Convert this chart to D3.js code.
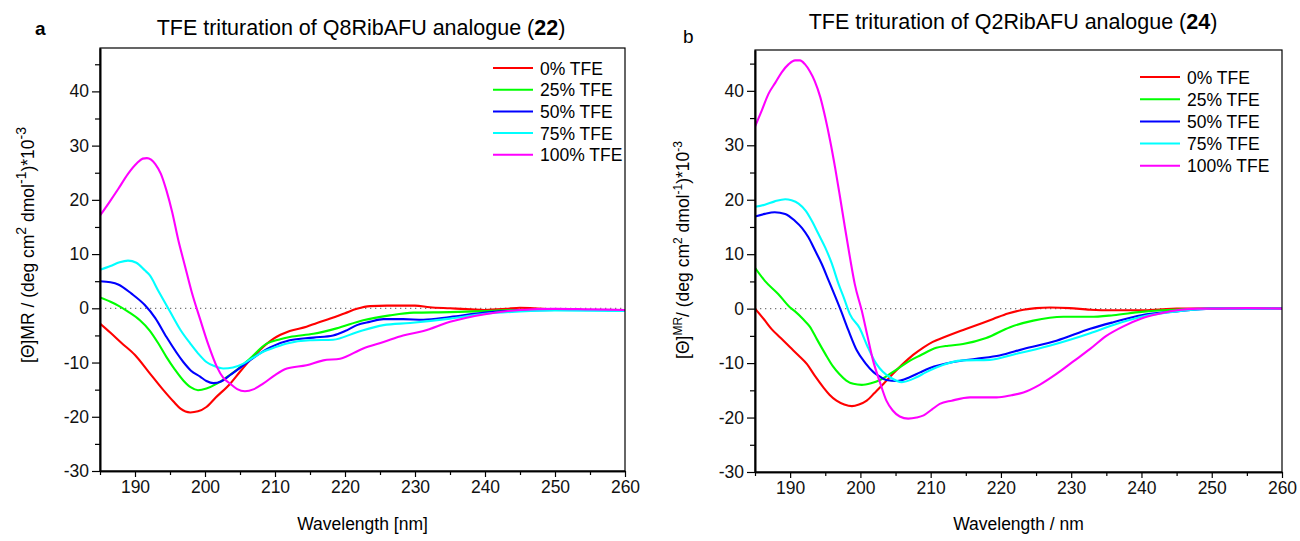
<!DOCTYPE html>
<html>
<head>
<meta charset="utf-8">
<script src="https://cdn.jsdelivr.net/npm/d3@7"></script>
<style>
  body { margin: 0; background: #fff; }
  svg { font-family: "Liberation Sans", Arial, sans-serif; }
</style>
</head>
<body>
<svg id="chart" width="1300" height="541"></svg>
<script>
// CD spectra, [wavelength nm, [Θ]MR * 10^-3]
const seriesNames = ["0% TFE", "25% TFE", "50% TFE", "75% TFE", "100% TFE"];
const seriesColors = ["#ff0000", "#00ff00", "#0000ff", "#00ffff", "#ff00ff"];
const xTicks = [190, 200, 210, 220, 230, 240, 250, 260];
const yTicks = [-30, -20, -10, 0, 10, 20, 30, 40];

// panel a: Q8RibAFU analogue (22)
const red0a = [[185,-2.8],[186.5,-4.5],[188,-6.3],[190,-8.6],[192,-11.8],[194,-15],[195.5,-17.2],[196.5,-18.5],[197.9,-19.2],[199,-19],[200.2,-18.2],[201.5,-16.5],[203.6,-13.9],[205,-11.7],[206.4,-9.6],[208,-7.5],[209.8,-5.6],[212.1,-4.2],[214.5,-3.4],[216,-2.7],[217.9,-1.9],[220,-0.9],[221.7,-0.1],[223.6,0.4],[226,0.5],[228.3,0.5],[230,0.5],[232.1,0.2],[235,0],[238,-0.2],[240,-0.3],[243,-0.1],[245,0.1],[247,0],[250,-0.2],[255,-0.3],[260,-0.3]];
const green25a = [[185,2.0],[186.5,1.2],[187.6,0.5],[189,-0.6],[190.7,-2.2],[192.1,-4.1],[193.3,-6.4],[194.5,-9],[195.7,-11.3],[196.9,-13.3],[198,-14.6],[199,-15.1],[200.2,-14.8],[201.7,-13.9],[203,-12.8],[204.5,-11.4],[206.4,-9.3],[208.8,-6.5],[210.5,-5.8],[212.1,-5.3],[215.5,-4.7],[218.8,-3.7],[222.6,-2.2],[226.4,-1.3],[229.8,-0.8],[235,-0.7],[240,-0.5],[245,-0.3],[250,-0.3],[260,-0.3]];
const blue50a = [[185,5.0],[186.5,4.8],[187.6,4.4],[189.5,2.7],[191.4,0.6],[192.9,-1.8],[194.5,-5.3],[196.9,-9.9],[198,-11.5],[199.3,-12.6],[200.2,-13.4],[201.2,-13.8],[202.3,-13.5],[203.6,-12.3],[205,-11],[206.4,-9.6],[209.3,-7.2],[212.1,-5.9],[215.5,-5.4],[218.3,-5.0],[220,-4.2],[221.7,-3.1],[223.5,-2.5],[225.5,-2.0],[228.3,-2.0],[231.2,-2.1],[235,-1.6],[240,-0.8],[245,-0.4],[250,-0.3],[260,-0.3]];
const cyan75a = [[185,7.1],[186.5,7.8],[187.8,8.5],[189,8.8],[190.2,8.4],[191.4,7.0],[192.1,6.1],[193.3,3.3],[195,-0.6],[196.5,-4.0],[197.9,-6.5],[199,-8.3],[200.2,-9.9],[201.4,-10.7],[202.6,-11.1],[204,-10.9],[205.5,-10.2],[206.9,-9.1],[208.3,-8.0],[210,-7.2],[211.7,-6.5],[215,-5.9],[218.3,-5.8],[221.7,-4.4],[225.5,-3.1],[229.3,-2.7],[235,-1.9],[240,-1.0],[245,-0.6],[250,-0.4],[260,-0.5]];
const magenta100a = [[185,17.1],[186.3,19.5],[187.6,22.0],[189,24.8],[190.3,26.8],[191.1,27.6],[191.7,27.7],[192.3,27.4],[192.9,26.6],[193.7,24.8],[194.5,21.7],[195.3,17.8],[196.2,12.5],[197.1,8.0],[198.1,3.0],[199.3,-2.0],[200.5,-6.8],[201.7,-10.8],[202.6,-12.8],[203.6,-13.9],[204.6,-14.9],[205.7,-15.3],[207,-14.9],[208.3,-13.9],[210,-12.3],[211.7,-11.1],[214.5,-10.5],[216.9,-9.6],[219.3,-9.3],[222.6,-7.4],[225.5,-6.2],[228.3,-5.0],[231.2,-4.2],[235,-2.5],[240,-1.1],[245,-0.3],[250,-0.1],[255,-0.2],[260,-0.3]];

// panel b: Q2RibAFU analogue (24)
const red0b = [[185,0],[186.3,-2],[187.4,-3.8],[188.5,-5.2],[190,-7.1],[191.2,-8.6],[192.4,-10.2],[193.5,-12.3],[194.7,-14.4],[195.6,-15.8],[196.6,-16.9],[197.7,-17.6],[198.8,-17.9],[199.8,-17.6],[200.9,-16.9],[202,-15.5],[203.3,-13.8],[204.6,-12],[206.1,-10.1],[207.5,-8.5],[209,-7.1],[210.3,-6.1],[211.8,-5.3],[215.1,-3.7],[218.9,-1.9],[221,-0.9],[223.2,-0.2],[225,0.1],[227,0.2],[229.8,0.1],[232.7,-0.2],[236,-0.3],[240,-0.3],[243,-0.1],[245,0],[250,0],[255,0],[260,0]];
const green25b = [[185,7.5],[186.4,5.1],[188.3,2.7],[190,0.2],[190.7,-0.5],[191.9,-2.0],[192.8,-3.3],[193.8,-5.6],[195,-8.3],[196.1,-10.6],[197,-12],[198,-13.2],[199,-13.8],[200.2,-14.0],[201.5,-13.7],[202.8,-13.1],[204.2,-12],[205.6,-10.8],[207,-9.6],[208.5,-8.6],[210.8,-7.2],[212.5,-6.8],[214.6,-6.5],[217.9,-5.4],[221.3,-3.4],[224.6,-2.2],[228.9,-1.5],[232.7,-1.5],[236,-1.2],[240,-0.6],[243,-0.3],[246,-0.1],[250,0],[255,0],[260,0]];
const blue50b = [[185,16.9],[186.4,17.4],[187.8,17.7],[189.3,17.4],[190.7,16.1],[191.7,14.8],[192.6,13.1],[193.5,10.8],[194.5,8.2],[195.5,5.1],[196.4,2.3],[197.3,-0.6],[198.3,-4.0],[199.5,-7.7],[200.7,-10],[201.9,-11.7],[202.8,-12.5],[203.7,-13.1],[205.2,-13.3],[207,-12.6],[208.5,-11.7],[209.9,-10.9],[213.2,-9.8],[216.5,-9.2],[219.8,-8.6],[223.2,-7.4],[227.9,-5.9],[232.7,-3.7],[236,-2.5],[240,-1.2],[245,-0.5],[250,0],[255,0],[260,0]];
const cyan75b = [[185,18.7],[186.4,19.1],[187.8,19.7],[189.3,20.1],[190.2,19.9],[191.2,19.3],[192.2,18.0],[193.1,16.1],[194,13.8],[195,11.2],[195.9,8.4],[196.9,4.5],[197.7,1.8],[198.5,-1.0],[199.9,-3.6],[201,-6.9],[202.3,-10.2],[203.2,-11.6],[204.2,-12.6],[205.9,-13.5],[208,-12.6],[209.3,-11.7],[210.8,-10.8],[214.6,-9.5],[218.4,-9.4],[222.2,-8.3],[226.9,-6.8],[232.7,-4.5],[236,-3.0],[240,-1.5],[245,-0.5],[250,0],[255,0],[260,0]];
const magenta100b = [[185,33.4],[186,36.5],[186.9,39.4],[187.9,41.5],[188.8,43.4],[189.8,44.9],[190.7,45.6],[191.4,45.6],[192.1,44.9],[192.8,43.6],[193.5,41.8],[194.3,38.8],[195,35.1],[195.7,30.8],[196.4,25.9],[197.1,20.5],[197.8,14.9],[198.5,9.5],[199.2,4.5],[200.2,-0.4],[201,-5],[201.8,-9.5],[202.8,-13.6],[203.7,-16.9],[204.6,-18.7],[205.6,-19.8],[206.8,-20.2],[208,-20],[209,-19.6],[210.2,-18.5],[211.3,-17.5],[213,-16.9],[215.6,-16.3],[219.4,-16.3],[221.5,-15.9],[223.2,-15.4],[225.5,-14],[227.9,-12.0],[230.3,-9.7],[232.7,-7.4],[235,-5.0],[237.5,-3.2],[240,-1.8],[243,-0.8],[245,-0.3],[248,0],[250,0],[255,0.1],[260,0]];

const svg = d3.select("#chart");

function drawPanel(p) {
  const x = d3.scaleLinear().domain([185, 260]).range([p.left, p.right]);
  const y = d3.scaleLinear().domain([-30, p.yMax]).range([p.bottom, p.top]);
  const g = svg.append("g");

  // zero line
  g.append("line")
    .attr("x1", x(185)).attr("x2", x(260))
    .attr("y1", y(0)).attr("y2", y(0))
    .attr("stroke", "#777").attr("stroke-width", 1.3)
    .attr("stroke-dasharray", "1.3,3.7");

  const clipId = "clip-" + p.id;
  g.append("clipPath").attr("id", clipId).append("rect")
    .attr("x", p.left).attr("y", p.top)
    .attr("width", p.right - p.left).attr("height", p.bottom - p.top);

  const line = d3.line()
    .x(d => x(d[0])).y(d => y(d[1]))
    .curve(d3.curveMonotoneX);

  g.selectAll(".spec")
    .data(p.series)
    .join("path")
    .attr("class", "spec")
    .attr("clip-path", `url(#${clipId})`)
    .attr("fill", "none")
    .attr("stroke", (d, i) => seriesColors[i])
    .attr("stroke-width", 2.1)
    .attr("d", line);

  // box
  g.append("rect")
    .attr("x", p.left).attr("y", p.top)
    .attr("width", p.right - p.left).attr("height", p.bottom - p.top)
    .attr("fill", "none").attr("stroke", "#000").attr("stroke-width", 1.2);

  // axes (plain hyphen for negatives, as in the original)
  const fmt = d => String(d);
  g.append("g")
    .attr("transform", `translate(0,${p.bottom})`)
    .call(d3.axisBottom(x).tickValues(xTicks).tickFormat(fmt).tickSize(6).tickSizeOuter(0).tickPadding(4));
  g.append("g")
    .attr("transform", `translate(0,${p.bottom})`)
    .call(d3.axisBottom(x).tickValues(d3.range(185, 260, 10)).tickSize(4).tickFormat("").tickSizeOuter(0));
  g.append("g")
    .attr("transform", `translate(${p.left},0)`)
    .call(d3.axisLeft(y).tickValues(yTicks).tickFormat(fmt).tickSize(8).tickSizeOuter(0).tickPadding(3));
  g.append("g")
    .attr("transform", `translate(${p.left},0)`)
    .call(d3.axisLeft(y).tickValues(d3.range(-25, p.yMax, 10)).tickSize(5).tickFormat("").tickSizeOuter(0));

  g.selectAll(".domain").attr("stroke", "#000").attr("stroke-width", 1.6);
  g.selectAll(".tick line").attr("stroke", "#000").attr("stroke-width", 1.2);
  g.selectAll(".tick text").attr("font-size", 17.5).attr("fill", "#111")
    .attr("font-family", "Liberation Sans, Arial, sans-serif");

  // titles and labels
  const title = g.append("text")
    .attr("x", p.titleX).attr("y", p.titleY)
    .attr("text-anchor", "middle").attr("font-size", 21.5);
  title.append("tspan").text(p.title);
  title.append("tspan").attr("font-weight", "bold").text(p.compound);
  title.append("tspan").text(")");

  g.append("text")
    .attr("x", p.letterX).attr("y", p.letterY)
    .attr("font-size", 19)
    .attr("font-weight", p.letterBold ? "bold" : "normal")
    .text(p.letter);

  g.append("text")
    .attr("x", (p.left + p.right) / 2).attr("y", 530)
    .attr("text-anchor", "middle").attr("font-size", 17.5)
    .text(p.xLabel);

  const yl = g.append("text")
    .attr("transform", `translate(${p.yLabelX},${p.yLabelY}) rotate(-90)`)
    .attr("text-anchor", "middle").attr("font-size", 17.5);
  p.yLabel.forEach(part => {
    const t = yl.append("tspan").text(part.t);
    if (part.sup) t.attr("baseline-shift", "super").attr("font-size", part.size || 12);
  });

  // legend
  const leg = g.append("g").attr("transform", `translate(${p.legX},${p.legY})`);
  seriesNames.forEach((name, i) => {
    const row = leg.append("g").attr("transform", `translate(0,${i * p.legStep})`);
    row.append("line").attr("x1", 0).attr("x2", 40).attr("y1", 0).attr("y2", 0)
      .attr("stroke", seriesColors[i]).attr("stroke-width", 2);
    row.append("text").attr("x", 47).attr("y", 6.5).attr("font-size", 17.5).text(name);
  });
}

drawPanel({
  id: "a", left: 100, right: 625, top: 48, bottom: 471, yMax: 48,
  series: [red0a, green25a, blue50a, cyan75a, magenta100a],
  title: "TFE trituration of Q8RibAFU analogue (", compound: "22",
  titleX: 361, titleY: 35, letter: "a", letterBold: true, letterX: 35, letterY: 35,
  xLabel: "Wavelength [nm]",
  yLabelX: 34, yLabelY: 245,
  yLabel: [{t: "[Θ]MR / (deg cm"}, {t: "2", sup: true, size: 14}, {t: " dmol"}, {t: "-1", sup: true, size: 14},
           {t: ")*10"}, {t: "-3", sup: true, size: 14}],
  legX: 493, legY: 68, legStep: 21.7
});

drawPanel({
  id: "b", left: 755, right: 1282, top: 50, bottom: 472, yMax: 47.5,
  series: [red0b, green25b, blue50b, cyan75b, magenta100b],
  title: "TFE trituration of Q2RibAFU analogue (", compound: "24",
  titleX: 1013, titleY: 29, letter: "b", letterBold: false, letterX: 683, letterY: 43,
  xLabel: "Wavelength / nm",
  yLabelX: 689, yLabelY: 250,
  yLabel: [{t: "[Θ]"}, {t: "MR", sup: true, size: 12}, {t: "/ (deg cm"}, {t: "2", sup: true, size: 12}, {t: " dmol"},
           {t: "-1", sup: true, size: 12}, {t: ")*10"}, {t: "-3", sup: true, size: 12}],
  legX: 1140, legY: 77, legStep: 22.2
});
</script>
</body>
</html>
